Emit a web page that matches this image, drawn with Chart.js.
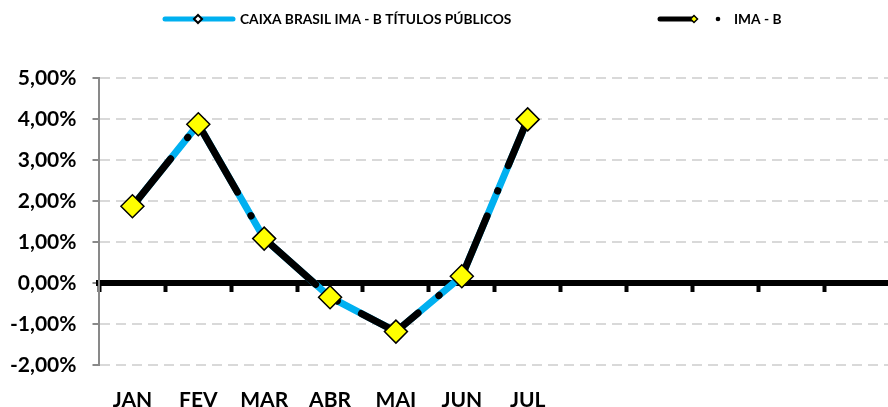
<!DOCTYPE html>
<html>
<head>
<meta charset="utf-8">
<script src="https://cdn.jsdelivr.net/npm/chart.js@4/dist/chart.umd.min.js"></script>
<style>
  html, body { margin: 0; padding: 0; background: #ffffff; overflow: hidden; }
  #wrap { width: 890px; height: 407px; position: relative; }
</style>
</head>
<body>
<div id="wrap"><canvas id="c"></canvas></div>
<script>
// ---- data ----
const categories = ['JAN', 'FEV', 'MAR', 'ABR', 'MAI', 'JUN', 'JUL', '', '', '', '', ''];
const fundLabel = 'CAIXA BRASIL IMA - B TÍTULOS PÚBLICOS';
const indexLabel = 'IMA - B';
const fundValues  = [1.87, 3.87, 1.08, -0.35, -1.19, 0.16, 3.99, null, null, null, null, null];
const indexValues = [1.87, 3.87, 1.08, -0.35, -1.19, 0.16, 3.99, null, null, null, null, null];
const yTickValues = [-2, -1, 0, 1, 2, 3, 4, 5];

const FONT = 'Lato, "Open Sans", "DejaVu Sans", sans-serif';
const CYAN = '#00B0F0';

function diamond(ctx, x, y, r, fill, stroke, lw) {
  ctx.beginPath();
  ctx.moveTo(x - r, y); ctx.lineTo(x, y - r); ctx.lineTo(x + r, y); ctx.lineTo(x, y + r);
  ctx.closePath();
  ctx.fillStyle = fill; ctx.fill();
  ctx.lineWidth = lw; ctx.strokeStyle = stroke; ctx.stroke();
}

const legendPlugin = {
  id: 'excelLegend',
  afterDraw(chart) {
    const ctx = chart.ctx;
    ctx.save();
    const y = 19;
    // item 1 : fund
    ctx.lineCap = 'round';
    ctx.lineWidth = 5; ctx.strokeStyle = CYAN;
    ctx.beginPath(); ctx.moveTo(165, y); ctx.lineTo(233, y); ctx.stroke();
    diamond(ctx, 198, y, 4, '#ffffff', '#000000', 2);
    ctx.font = 'bold 13.75px ' + FONT;
    ctx.fillStyle = '#000000'; ctx.textAlign = 'left'; ctx.textBaseline = 'middle';
    ctx.fillText(fundLabel, 240, y + 1);
    // item 2 : index
    ctx.lineCap = 'round';
    ctx.lineWidth = 5; ctx.strokeStyle = '#000000';
    ctx.beginPath(); ctx.moveTo(660, y); ctx.lineTo(693, y); ctx.stroke();
    diamond(ctx, 694, y, 3.5, '#FFFF00', '#000000', 1.5);
    ctx.beginPath(); ctx.arc(718, y, 2.3, 0, Math.PI * 2); ctx.fillStyle = '#000000'; ctx.fill();
    ctx.font = 'bold 13.75px ' + FONT;
    ctx.fillStyle = '#000000';
    ctx.fillText(indexLabel, 734, y + 1);
    ctx.restore();
  }
};

new Chart(document.getElementById('c'), {
  type: 'line',
  data: {
    labels: categories,
    datasets: [
      {
        label: indexLabel,
        data: indexValues,
        borderColor: '#000000',
        borderWidth: 7,
        borderDash: [68, 27, 0.5, 27],
        borderDashOffset: 7,
        borderCapStyle: 'round',
        borderJoinStyle: 'round',
        pointStyle: 'rectRot',
        pointRadius: 11.5,
        pointHoverRadius: 11.5,
        pointBackgroundColor: '#FFFF00',
        pointBorderColor: '#000000',
        pointBorderWidth: 1.5,
        tension: 0,
        order: 0
      },
      {
        label: fundLabel,
        data: fundValues,
        borderColor: CYAN,
        borderWidth: 7,
        borderCapStyle: 'round',
        borderJoinStyle: 'round',
        pointRadius: 0,
        tension: 0,
        order: 1
      }
    ]
  },
  options: {
    responsive: true,
    maintainAspectRatio: false,
    animation: false,
    events: [],
    layout: { autoPadding: false, padding: { top: 78, left: -6, right: 0, bottom: -29 } },
    plugins: { legend: { display: false }, tooltip: { enabled: false } },
    scales: {
      x: {
        type: 'category',
        offset: true,
        grid: { display: false, drawTicks: false },
        border: { display: false },
        ticks: {
          autoSkip: false, maxRotation: 0, minRotation: 0,
          font: { family: FONT, weight: 'bold', size: 21 },
          color: '#000000',
          padding: 23
        }
      },
      x2: {
        type: 'category',
        labels: categories,
        position: { y: 0 },
        offset: true,
        grid: {
          offset: true, drawOnChartArea: false, drawTicks: true,
          tickLength: 6, tickWidth: 4, tickColor: '#000000'
        },
        border: { display: true, color: '#000000', width: 6 },
        ticks: { display: false }
      },
      y: {
        type: 'linear',
        min: -2, max: 5,
        afterBuildTicks: (scale) => { scale.ticks = yTickValues.map(v => ({ value: v })); },
        ticks: {
          callback: (v) => v.toFixed(2).replace('.', ',') + '%',
          font: { family: FONT, weight: 'bold', size: 21 },
          color: '#000000',
          padding: 16
        },
        grid: {
          color: '#D9D9D9', lineWidth: 2,
          drawTicks: true, tickLength: 7, tickWidth: 2, tickColor: '#898989'
        },
        border: {
          display: true, color: '#898989', width: 2,
          dash: (c) => (c.tick ? [10, 6] : [])
        }
      }
    }
  },
  plugins: [legendPlugin]
});
</script>
</body>
</html>
